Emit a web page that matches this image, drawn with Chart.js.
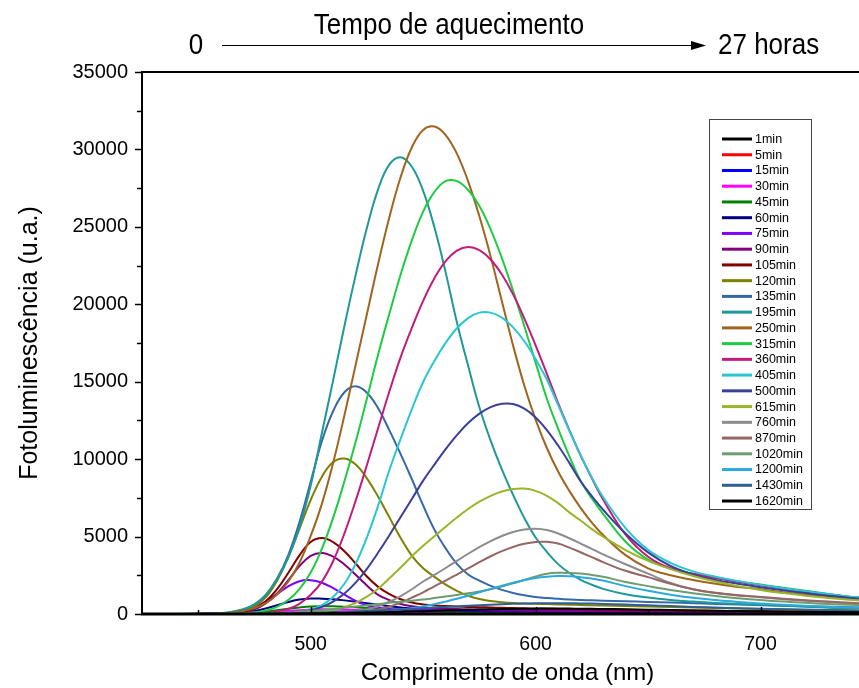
<!DOCTYPE html>
<html lang="pt">
<head>
<meta charset="utf-8">
<title>Fotoluminescência vs. tempo de aquecimento</title>
<script src="https://cdn.jsdelivr.net/npm/chart.js@4/dist/chart.umd.min.js"></script>
<style>
  html, body { margin: 0; padding: 0; background: #ffffff; overflow: hidden; }
  #wrap { width: 859px; height: 688px; overflow: hidden; }
  canvas { display: block; }
</style>
</head>
<body>
<div id="wrap"><canvas id="c" width="880" height="688"></canvas></div>
<script>
// Wavelength grid (nm) shared by every spectrum
const wavelengths = [425,435,445,455, 460,465,470,475,480,485,490,495,500, 505,510,515,520,525,530,535,540,545,
  550,555,560,565,570,575,580,585,590, 595,600,605,610,615,620,625,630, 640,650,660,670,680,690,700,710,720,730,740,750];

// Photoluminescence intensity (u.a.) for each heating time
const s1min = [0,0,0,1, 2,3,5,9,14,20,27,33,38, 40,39,37,34,30,26,22,19,17, 15,13,12,11,10,10,9,9,9, 8,8,8,8,7,7,7,7, 6,6,6,5,5,5,5,5,4,4,4,4];
const s5min = [0,0,0,2, 3,5,9,15,24,35,47,58,66, 70,69,65,59,52,45,39,34,30, 26,23,21,20,19,18,17,16,15, 15,14,14,14,13,13,13,12, 12,11,11,10,10,10,9,9,9,8,8,8];
const s15min = [0,0,0,3, 5,8,15,30,50,75,100,125,145, 150,148,141,129,114,99,84,73,63, 55,50,45,42,39,37,36,34,33, 32,31,30,29,28,28,27,26, 25,24,23,22,21,20,19,18,17,16,15,14];
const s30min = [0,0,0,3, 6,12,27,55,95,150,205,250,290, 300,297,282,258,228,198,168,145,126, 111,99,90,84,78,75,72,69,66, 63,60,59,57,55,54,53,51, 48,45,42,40,37,35,33,31,30,29,28,26];
const s45min = [0,0,0,5, 10,20,45,90,160,250,340,420,480, 500,495,470,430,380,330,280,240,210, 185,165,150,140,130,125,120,115,110, 105,100,98,95,92,90,88,85, 80,75,70,66,62,58,55,52,50,48,46,44];
const s60min = [0,0,0,10, 20,45,100,200,360,560,770,930,1000, 990,950,880,790,690,590,500,420,360, 310,270,240,220,200,190,180,170,165, 160,155,150,145,140,135,130,125, 120,115,110,105,100,95,90,85,80,75,70,65];
const s75min = [0,0,0,12, 30,80,200,430,800,1280,1780,2120,2185, 2020,1670,1250,840,560,400,330,300,280, 270,260,255,250,245,240,235,230,225, 220,215,210,205,200,195,190,185, 175,165,155,145,135,125,120,115,110,105,100,95];
const s90min = [0,0,0,8, 18,45,120,300,680,1310,2170,3090,3760, 3940,3710,3200,2540,1840,1230,900,650,500, 420,370,340,320,305,290,280,270,260, 250,240,235,230,225,220,215,210, 200,190,180,170,160,150,145,140,135,130,125,120];
const s105min = [0,0,0,10, 20,50,140,360,820,1590,2650,3790,4650, 4900,4640,4050,3260,2420,1750,1280,950,740, 620,550,510,480,460,440,420,400,385, 370,355,340,330,320,310,300,290, 270,250,235,220,205,190,180,170,160,150,140,130];
const s120min = [0,0,0,15, 30,80,200,490,1070,2130,3650,5500,7360, 8870,9810,10040,9650,8760,7570,6240,4910,3750, 2950,2400,1900,1500,1180,970,840,760,710, 680,660,640,620,600,580,560,545, 510,480,450,420,390,360,330,300,280,260,240,220];
const s135min = [0,0,5,25, 50,120,270,600,1210,2270,3790,5930,8540, 11180,13110,14320,14700,14290,13280,11860,10320,8700, 7010,5450,4240,3240,2550,2150,1820,1560,1360, 1210,1100,1030,980,940,910,880,860, 820,780,740,700,650,610,570,530,500,470,440,410];
const s195min = [0,5,10,30, 60,140,310,620,1230,2240,3640,5600,8300, 11700,15100,18600,21900,24940,27440,29030,29500,28880, 27320,24970,22060,18840,16030,13350,11200,9340,7690, 6190,4940,4010,3220,2650,2210,1890,1620, 1270,1060,910,800,710,650,590,530,470,410,380,350];
const s250min = [0,0,5,20, 40,90,190,380,700,1250,2080,3310,5040, 7130,9770,12830,16100,19370,22620,25640,28220,30140, 31260,31480,30930,29730,27940,25680,23090,20190,17330, 14740,12550,10720,9200,7950,6850,5900,5100, 3800,2950,2500,2200,1950,1750,1600,1400,1250,1100,950,850];
const s315min = [0,0,0,5, 10,25,50,110,230,460,900,1610,2680, 4220,6220,8570,11120,13910,16770,19400,21920,24140, 25980,27260,27950,27950,27380,26340,24840,22980,20870, 18580,16230,13900,11970,10190,8600,7460,6470, 4670,3520,2950,2600,2350,2100,1900,1700,1500,1300,1100,1000];
const s360min = [0,0,0,0, 5,8,15,35,75,160,330,660,1240, 2090,3420,5210,7320,9620,12010,14380,16590,18490, 20220,21680,22780,23470,23700,23490,22890,21920,20640, 19080,17350,15510,13620,11880,10240,8770,7390, 5130,3700,2950,2600,2330,2080,1850,1650,1450,1270,1100,980];
const s405min = [0,0,0,0, 0,5,10,15,20,25,60,140,290, 580,1100,1950,3250,4950,7000,9300,11310,13230, 14980,16340,17510,18450,19110,19460,19460,19140,18510, 17610,16460,15140,13500,11850,10250,8800,7550, 5550,4150,3300,2750,2400,2130,1880,1670,1470,1290,1120,1000];
const s500min = [0,0,0,0, 0,0,5,5,10,30,60,130,250, 460,800,1320,2030,2920,3970,5090,6270,7430, 8610,9650,10650,11550,12330,12940,13360,13570,13560, 13260,12690,11880,10880,9760,8570,7610,6730, 5200,3980,3100,2550,2200,1950,1730,1530,1350,1180,1030,920];
const s615min = [0,0,0,0, 0,0,5,8,10,15,20,40,80, 150,260,440,720,1120,1630,2310,3000,3730, 4400,5020,5640,6230,6780,7250,7630,7910,8070, 8100,7950,7630,7160,6560,6040,5480,4990, 4130,3430,2900,2450,2100,1800,1550,1350,1180,1040,920,830];
const s760min = [0,0,0,0, 0,0,5,5,8,10,12,15,20, 25,50,100,180,300,500,790,1160,1600, 2100,2520,2970,3430,3890,4320,4710,5040,5290, 5450,5500,5420,5200,4890,4550,4200,3850, 3210,2610,2000,1600,1350,1200,1080,960,860,770,700,640];
const s870min = [0,0,0,0, 0,0,3,5,6,8,10,15,20, 25,30,55,100,170,290,470,730,1060, 1400,1790,2160,2550,2950,3350,3730,4060,4330, 4530,4650,4660,4550,4290,3990,3670,3350, 2790,2380,1950,1600,1370,1210,1100,990,890,800,720,650];
const s1020min = [0,0,0,0, 5,10,20,30,45,70,100,140,190, 250,320,400,480,560,640,720,790,860, 930,1030,1130,1230,1340,1450,1600,1780,1980, 2200,2420,2600,2660,2650,2610,2520,2400, 2070,1800,1550,1340,1160,1020,900,800,720,650,590,540];
const s1200min = [0,0,0,0, 0,0,0,0,0,0,5,8,12, 20,30,45,70,100,140,200,280,370, 490,630,800,980,1180,1400,1620,1830,2020, 2190,2330,2410,2450,2440,2380,2290,2160, 1800,1500,1250,1050,900,780,680,600,530,470,420,380];
const s1430min = [0,0,0,0, 0,5,10,15,20,30,40,55,70, 90,110,135,160,190,220,255,290,330, 370,410,450,490,530,565,600,630,655, 675,690,700,700,695,685,670,650, 610,560,510,460,415,375,340,305,275,250,225,205];
const s1620min = [0,0,0,0, 0,3,5,8,10,15,20,28,35, 45,55,68,80,95,110,128,145,165, 185,205,225,245,265,283,300,315,328, 338,345,350,350,348,343,335,325, 305,280,255,230,208,188,170,153,138,125,113,103];

const seriesLabels = ['1min','5min','15min','30min','45min','60min','75min','90min','105min','120min','135min','195min',
  '250min','315min','360min','405min','500min','615min','760min','870min','1020min','1200min','1430min','1620min'];
const seriesValues = [s1min,s5min,s15min,s30min,s45min,s60min,s75min,s90min,s105min,s120min,s135min,s195min,
  s250min,s315min,s360min,s405min,s500min,s615min,s760min,s870min,s1020min,s1200min,s1430min,s1620min];
const seriesColors = ['#000000','#ff0000','#0000ff','#ff00ff','#008000','#000080','#8000ff','#800080','#800000','#808000',
  '#3469a8','#1f9898','#a0641e','#1fcb44','#c31b7c','#2ac6d4','#3a3f98','#9ab52a','#8c8c8c','#966666','#6e9c6e','#2ba9dc','#2d5f92','#000000'];

// Axis ticks
const xTickValues = [500, 600, 700];
const xMinorTicks = [450, 550, 650];
const yTickValues = [0, 5000, 10000, 15000, 20000, 25000, 30000, 35000];
const yMinorTicks = [2500, 7500, 12500, 17500, 22500, 27500, 32500];

const FONT = '"Liberation Sans", Arial, Helvetica, sans-serif';

// Axes frame, inward/outward tick marks, legend box and the heating-time arrow
const framePlugin = {
  id: 'frame',
  afterDatasetsDraw(chart) {
    const { ctx, chartArea: a, scales: { x, y } } = chart;
    ctx.save();
    ctx.strokeStyle = '#000';
    ctx.lineCap = 'butt';

    // top border
    ctx.lineWidth = 2;
    ctx.beginPath(); ctx.moveTo(a.left, a.top); ctx.lineTo(a.right, a.top); ctx.stroke();
    // left axis
    ctx.beginPath(); ctx.moveTo(a.left, a.top - 1); ctx.lineTo(a.left, a.bottom + 1); ctx.stroke();
    // bottom axis
    ctx.lineWidth = 3;
    ctx.beginPath(); ctx.moveTo(a.left - 1, a.bottom); ctx.lineTo(a.right, a.bottom); ctx.stroke();

    // y ticks (outward)
    ctx.lineWidth = 1.5;
    yTickValues.forEach(v => {
      const py = Math.round(y.getPixelForValue(v)) + 0.5;
      ctx.beginPath(); ctx.moveTo(a.left, py); ctx.lineTo(a.left - 7, py); ctx.stroke();
    });
    yMinorTicks.forEach(v => {
      const py = Math.round(y.getPixelForValue(v)) + 0.5;
      ctx.beginPath(); ctx.moveTo(a.left, py); ctx.lineTo(a.left - 5, py); ctx.stroke();
    });
    // x ticks (inward)
    xTickValues.forEach(v => {
      const px = Math.round(x.getPixelForValue(v)) + 0.5;
      ctx.beginPath(); ctx.moveTo(px, a.bottom); ctx.lineTo(px, a.bottom - 7); ctx.stroke();
    });
    xMinorTicks.forEach(v => {
      const px = Math.round(x.getPixelForValue(v)) + 0.5;
      ctx.beginPath(); ctx.moveTo(px, a.bottom); ctx.lineTo(px, a.bottom - 4); ctx.stroke();
    });

    // legend
    const lx = 709, ly = 119, lw = 102, lh = 390;
    ctx.fillStyle = '#ffffff';
    ctx.fillRect(lx, ly, lw, lh);
    ctx.strokeStyle = '#444';
    ctx.lineWidth = 1;
    ctx.strokeRect(lx + 0.5, ly + 0.5, lw, lh);
    ctx.font = '12.5px ' + FONT;
    ctx.textAlign = 'left';
    ctx.textBaseline = 'middle';
    chart.data.datasets.forEach((ds, i) => {
      const ry = 139 + i * 15.74;
      ctx.strokeStyle = ds.borderColor;
      ctx.lineWidth = 3;
      ctx.beginPath(); ctx.moveTo(722, ry); ctx.lineTo(752, ry); ctx.stroke();
      ctx.fillStyle = '#000';
      ctx.fillText(ds.label, 755, ry + 0.5);
    });

    // heating-time annotation above the plot
    ctx.fillStyle = '#000';
    ctx.strokeStyle = '#000';
    const tall = (text, px, py, align) => {
      ctx.save();
      ctx.translate(px, py);
      ctx.scale(1, 1.12);
      ctx.textAlign = align;
      ctx.textBaseline = 'alphabetic';
      ctx.fillText(text, 0, 0);
      ctx.restore();
    };
    ctx.font = '26px ' + FONT;
    tall('Tempo de aquecimento', 449, 34, 'center');
    tall('0', 196, 54, 'center');
    tall('27 horas', 718, 54, 'left');
    ctx.lineWidth = 1;
    ctx.beginPath(); ctx.moveTo(222, 45.5); ctx.lineTo(694, 45.5); ctx.stroke();
    ctx.beginPath(); ctx.moveTo(706, 45.5); ctx.lineTo(691, 41); ctx.lineTo(691, 50); ctx.closePath(); ctx.fill();

    ctx.restore();
  }
};

const datasets = seriesLabels.map((label, i) => ({
  label,
  data: wavelengths.map((w, j) => ({ x: w, y: seriesValues[i][j] })),
  borderColor: seriesColors[i],
  backgroundColor: seriesColors[i],
  borderWidth: 2,
  pointRadius: 0,
  tension: 0.4,
  fill: false,
  order: seriesLabels.length - i
}));

new Chart(document.getElementById('c'), {
  type: 'line',
  data: { datasets },
  options: {
    responsive: false,
    animation: false,
    events: [],
    layout: { padding: { top: 72, right: 7, left: 0, bottom: 0 } },
    plugins: { legend: { display: false }, tooltip: { enabled: false } },
    scales: {
      x: {
        type: 'linear',
        min: 425,
        max: 750,
        grid: { display: false, drawTicks: false },
        border: { display: false },
        afterBuildTicks: s => { s.ticks = xTickValues.map(v => ({ value: v })); },
        afterFit: s => { s.height = 74; },
        ticks: { padding: 19, autoSkip: false, maxRotation: 0, color: '#000',
                 font: { family: FONT, size: 19.5 }, callback: v => String(v) },
        title: { display: true, text: 'Comprimento de onda (nm)', color: '#000',
                 font: { family: FONT, size: 24 }, padding: { top: 0, bottom: 0 } }
      },
      y: {
        type: 'linear',
        min: 0,
        max: 35000,
        grid: { display: false, drawTicks: false },
        border: { display: false },
        afterBuildTicks: s => { s.ticks = yTickValues.map(v => ({ value: v })); },
        afterFit: s => { s.width = 142; },
        ticks: { padding: 14, color: '#000', font: { family: FONT, size: 20 }, callback: v => String(v) },
        title: { display: true, text: 'Fotoluminescência (u.a.)', color: '#000',
                 font: { family: FONT, size: 25 }, padding: { top: 15, bottom: 0 } }
      }
    }
  },
  plugins: [framePlugin]
});
</script>
</body>
</html>
